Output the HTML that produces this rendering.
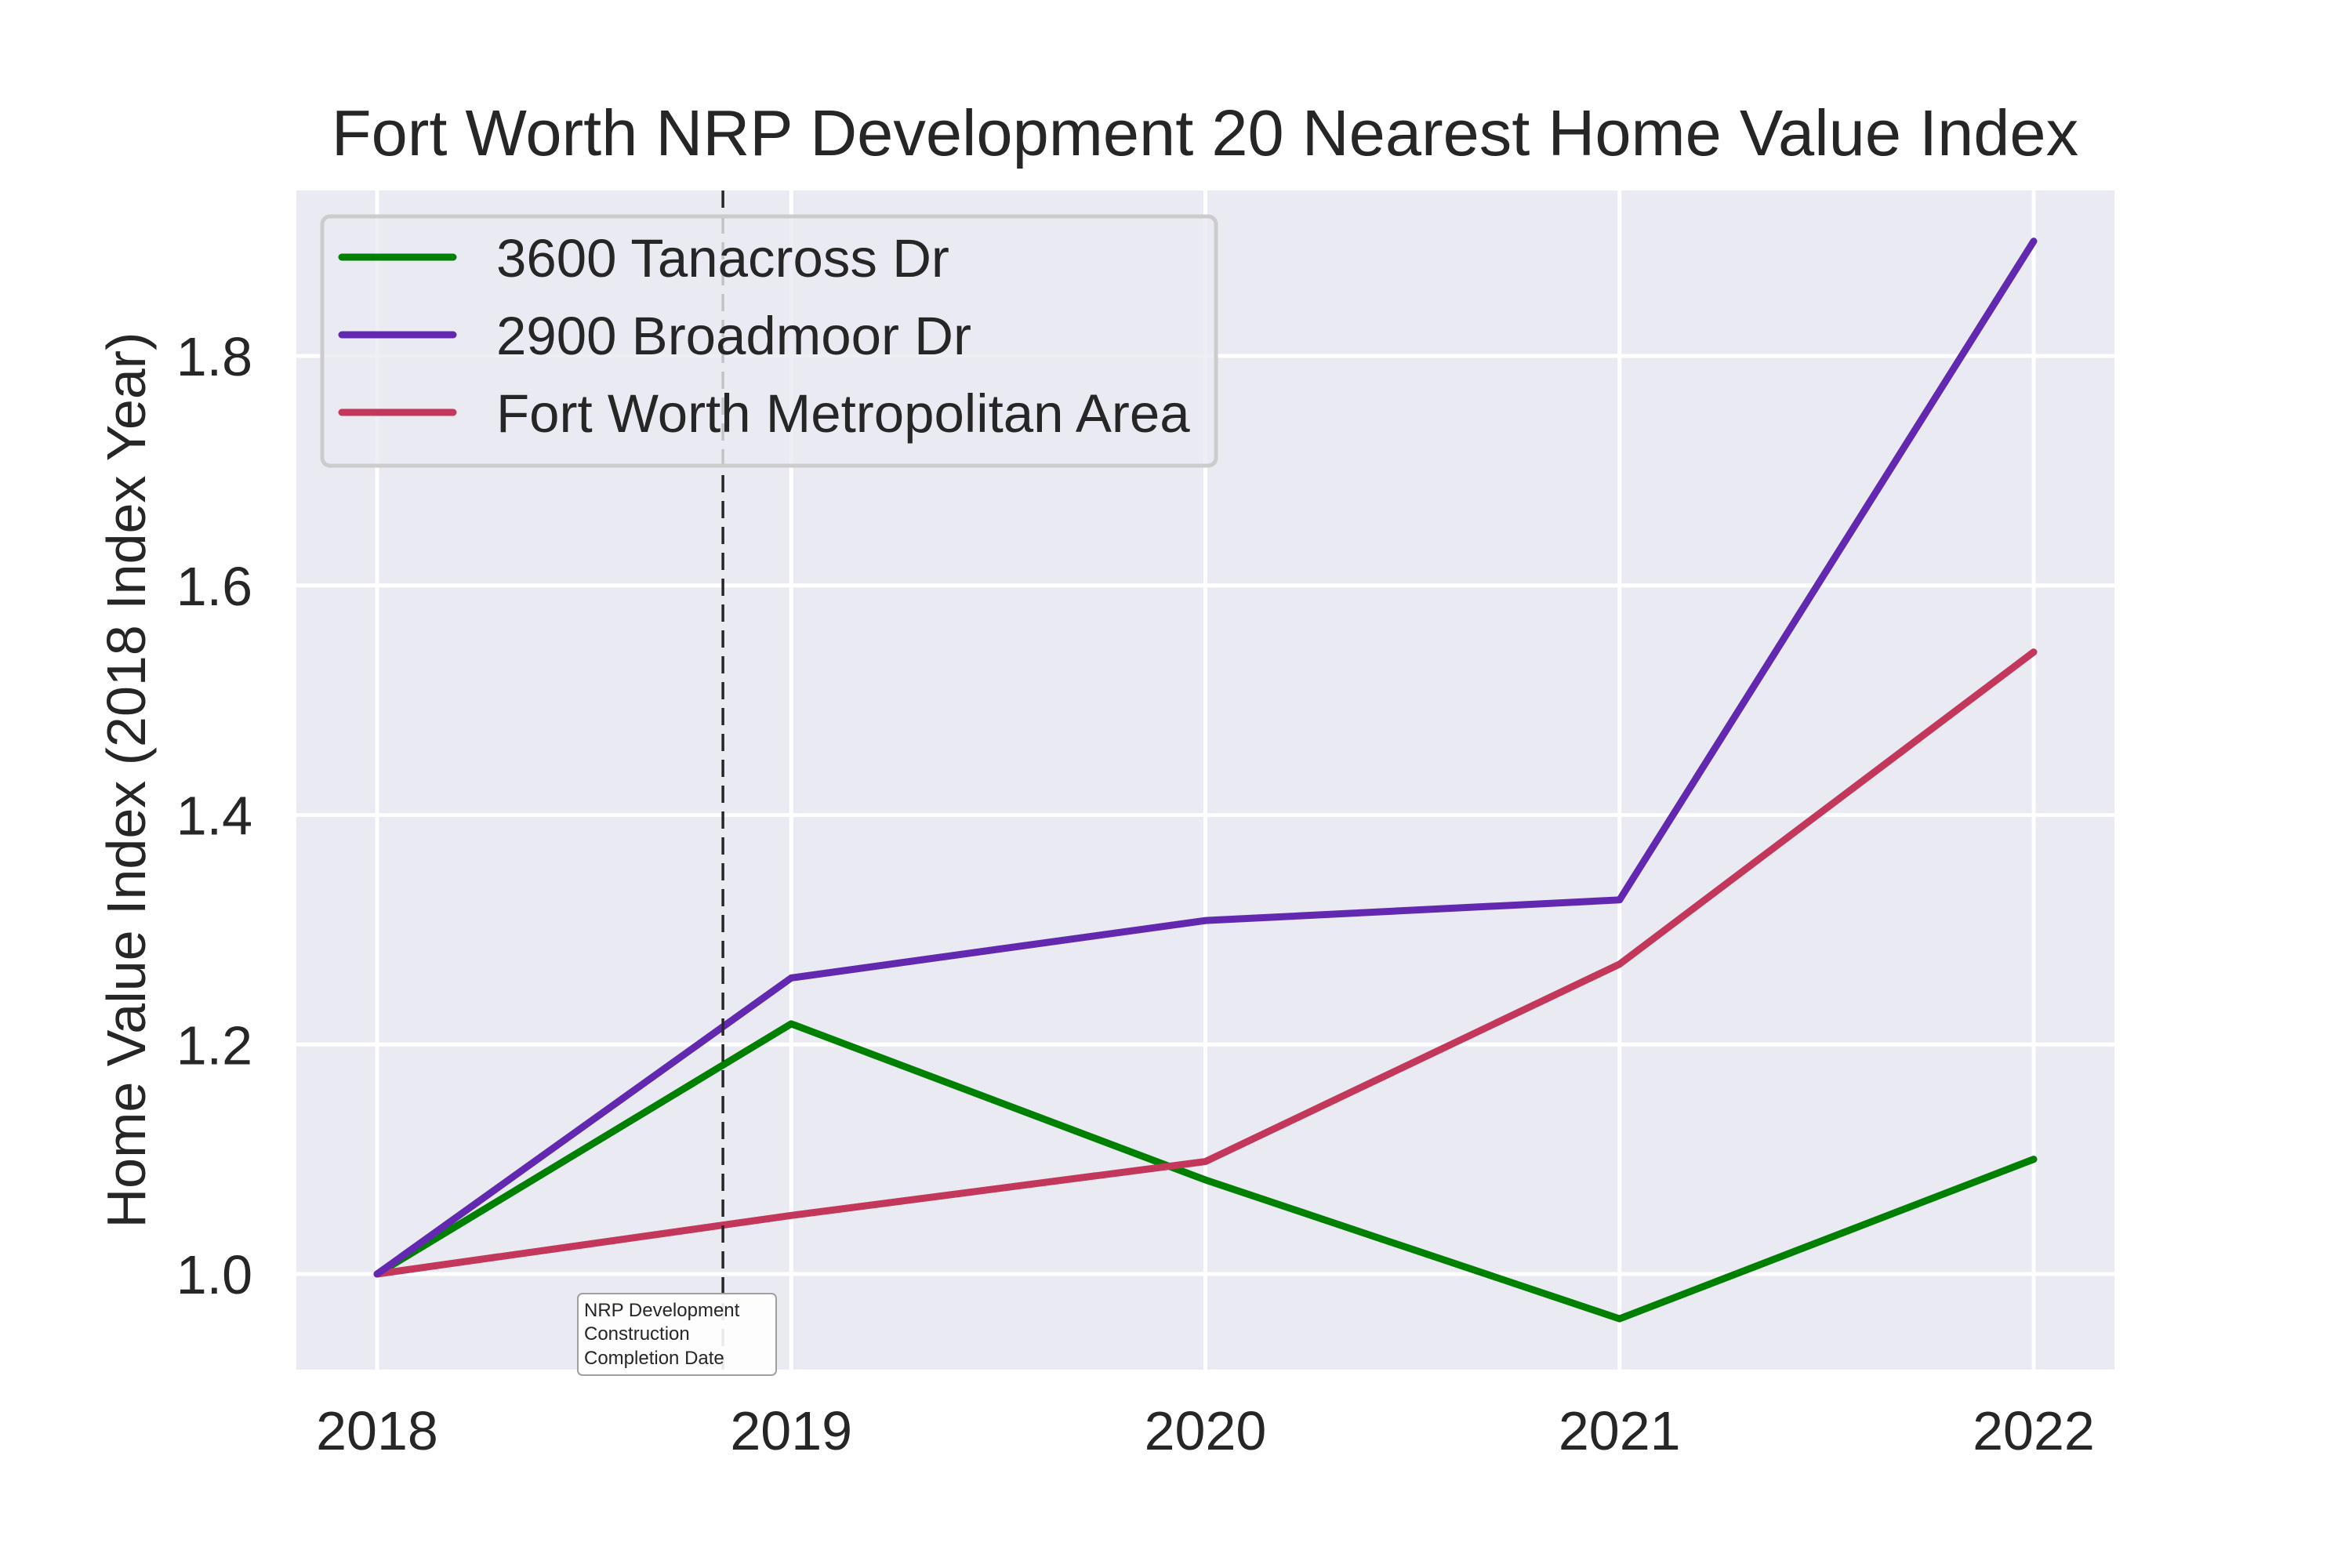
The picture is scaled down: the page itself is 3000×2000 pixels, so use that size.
<!DOCTYPE html>
<html><head><meta charset="utf-8">
<style>
html,body{margin:0;padding:0;background:#fff;}
svg{display:block;font-family:"Liberation Sans",Arial,sans-serif;}
</style></head>
<body>
<svg id="chart" width="3000" height="2000" viewBox="0 0 3000 2000" xmlns="http://www.w3.org/2000/svg">
<rect x="0" y="0" width="3000" height="2000" fill="#ffffff"/>
<text x="1537" y="198" font-size="83" fill="#262626" text-anchor="middle">Fort Worth NRP Development 20 Nearest Home Value Index</text>
<rect x="378" y="243" width="2319" height="1504" fill="#eaeaf2"/>
<g id="grid"></g>
<g id="ticks"></g>
<text transform="translate(185,995) rotate(-90)" font-size="70" fill="#262626" text-anchor="middle">Home Value Index (2018 Index Year)</text>
<g id="series"></g>
<line id="vline" y1="243" y2="1747" stroke="#262626" stroke-width="3.5" stroke-dasharray="22,11"/>
<g>
<rect x="737" y="1650" width="253" height="104" rx="6" fill="#ffffff" fill-opacity="0.9" stroke="#a0a0a0" stroke-width="2"/>
<text x="745" y="1679" font-size="24" fill="#262626">NRP Development</text>
<text x="745" y="1709" font-size="24" fill="#262626">Construction</text>
<text x="745" y="1740" font-size="24" fill="#262626">Completion Date</text>
</g>
<g>
<rect x="411" y="276" width="1140" height="318" rx="10" fill="#eaeaf2" fill-opacity="0.8" stroke="#cccccc" stroke-width="5"/>
<line x1="436" y1="328" x2="578" y2="328" stroke="#008000" stroke-width="9" stroke-linecap="round"/>
<text x="633" y="353" font-size="69" fill="#262626">3600 Tanacross Dr</text>
<line x1="436" y1="427" x2="578" y2="427" stroke="#6328b0" stroke-width="9" stroke-linecap="round"/>
<text x="633" y="452" font-size="69" fill="#262626">2900 Broadmoor Dr</text>
<line x1="436" y1="526" x2="578" y2="526" stroke="#c3385a" stroke-width="9" stroke-linecap="round"/>
<text x="633" y="551" font-size="69" fill="#262626">Fort Worth Metropolitan Area</text>
</g>
</svg>
<script>
const years = [2018, 2019, 2020, 2021, 2022];
const tanacross = [1.0, 1.218, 1.082, 0.961, 1.100];
const broadmoor = [1.0, 1.258, 1.308, 1.326, 1.900];
const metro = [1.0, 1.051, 1.098, 1.270, 1.542];
const yTicks = [1.0, 1.2, 1.4, 1.6, 1.8];
const yTickLabels = ["1.0", "1.2", "1.4", "1.6", "1.8"];
const constructionDate = 2018.835;

const NS = "http://www.w3.org/2000/svg";
function xs(v){ return 481 + (v - 2018) * 528.25; }
function ys(v){ return 1625 - (v - 1.0) * 1463.75; }
function mk(tag, attrs, parent){
  const el = document.createElementNS(NS, tag);
  for (const k in attrs) el.setAttribute(k, attrs[k]);
  parent.appendChild(el);
  return el;
}
const grid = document.getElementById('grid');
const ticks = document.getElementById('ticks');
years.forEach(function(y){
  const l = mk('line', {x1: xs(y), x2: xs(y), y1: 243, y2: 1747, stroke: '#ffffff', 'stroke-width': 5}, grid);
  
  
  const t = mk('text', {x: xs(y), y: 1849, 'font-size': 70, fill: '#262626', 'text-anchor': 'middle'}, ticks);
  t.textContent = String(y);
  
  
});
yTicks.forEach(function(v, i){
  const l = mk('line', {x1: 378, x2: 2697, y1: ys(v), y2: ys(v), stroke: '#ffffff', 'stroke-width': 5}, grid);
  
  
  const t = mk('text', {x: 322, y: ys(v) + 25, 'font-size': 70, fill: '#262626', 'text-anchor': 'end'}, ticks);
  t.textContent = yTickLabels[i];
  
  
});
const series = document.getElementById('series');
function drawLine(vals, color, name){
  const pts = vals.map(function(v, i){ return xs(years[i]) + ',' + ys(v); }).join(' ');
  const p = mk('polyline', {points: pts, fill: 'none', stroke: color, 'stroke-width': 9, 'stroke-linecap': 'round', 'stroke-linejoin': 'round'}, series);
  
  
}
drawLine(tanacross, '#008000', 'line-tanacross');
drawLine(metro, '#c3385a', 'line-metro');
drawLine(broadmoor, '#6328b0', 'line-broadmoor');
const vl = document.getElementById('vline');
vl.setAttribute('x1', xs(constructionDate));
vl.setAttribute('x2', xs(constructionDate));
</script>
</body></html>
